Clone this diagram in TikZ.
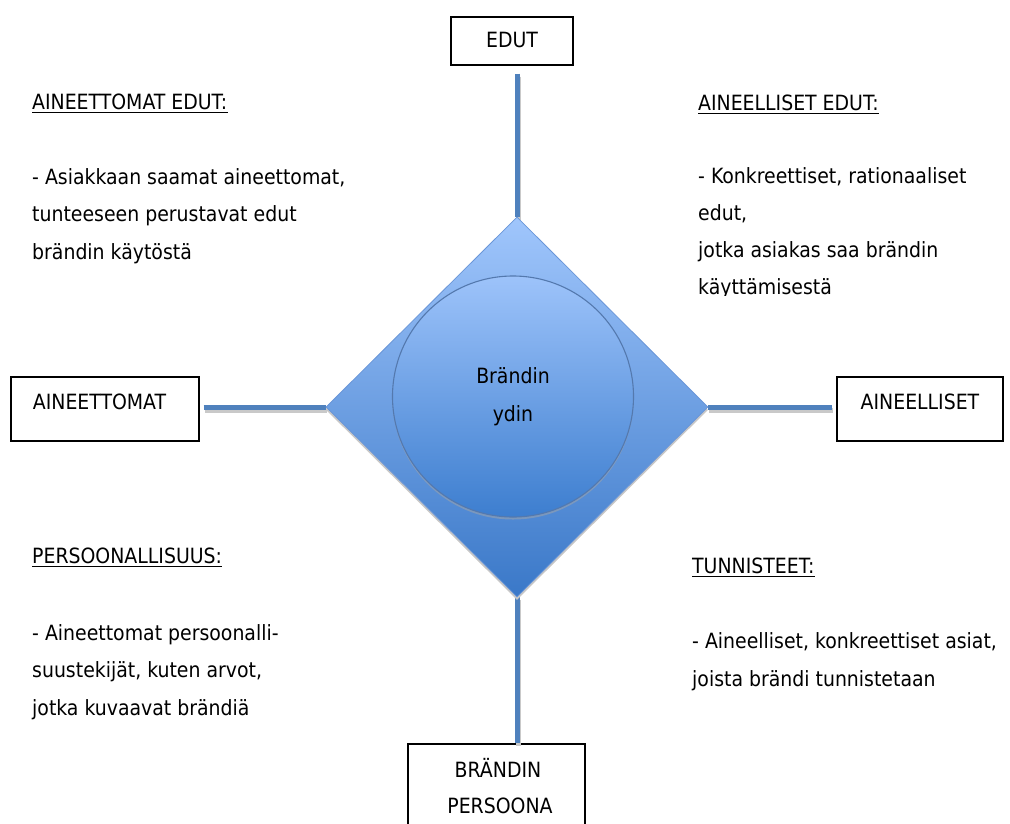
\documentclass[tikz,border=0pt]{standalone}
\usepackage{fontspec}
\setmainfont{DejaVu Sans Condensed}
\usetikzlibrary{shapes.geometric,shadows}

\definecolor{linkblue}{HTML}{4F81BD}
\definecolor{linkshade}{HTML}{C9C9C9}
\definecolor{diatop}{HTML}{A0C6FC}
\definecolor{diabot}{HTML}{3A78C8}
\definecolor{diaedge}{HTML}{6A96D8}
\definecolor{coretop}{HTML}{9DC3FA}
\definecolor{corebot}{HTML}{3D7ECF}
\definecolor{coreedge}{HTML}{5479AE}

\newcommand{\bodysize}{\fontsize{21}{25}\selectfont}

\tikzset{
  labelbox/.style={draw=black, line width=1.4pt, rectangle, inner sep=0pt},
  txt/.style={anchor=base west, inner sep=0pt, font=\bodysize},
  ctxt/.style={anchor=base, inner sep=0pt, font=\bodysize},
  link/.style={draw=linkblue, line width=5pt},
  linkshadow/.style={draw=linkshade, line width=5pt,
    transform canvas={xshift=1pt, yshift=-3pt}},
  rule/.style={line width=1.6pt}
}

\begin{document}
\begin{tikzpicture}[x=1pt, y=-1pt]
\clip (0,0) rectangle (1010,823);
\fill[white] (0,0) rectangle (1010,823);

% outer boxes
\node[labelbox, minimum width=122pt, minimum height=48pt] (edut) at (512,41) {};
\node[labelbox, minimum width=188pt, minimum height=64pt] (aineettomat) at (105,409) {};
\node[labelbox, minimum width=166pt, minimum height=64pt] (aineelliset) at (920,409) {};
\node[labelbox, minimum width=177pt, minimum height=100pt] (persoona) at (496.5,794) {};

% core shape outline, used as anchor for the connectors
\path (517,407) node[diamond, minimum width=382pt, minimum height=380pt, inner sep=0pt] (core) {};

% connectors with their soft shadows
\foreach \sty in {linkshadow, link} {
  \draw[\sty, shorten <=8pt] (core.north |- edut.south) -- (core.north);
  \draw[\sty, shorten <=4pt] (aineettomat.east |- core.west) -- (core.west);
  \draw[\sty, shorten >=4pt] (core.east) -- (aineelliset.west |- core.east);
  \draw[\sty] (core.south) -- (core.south |- persoona.north);
}

% diamond and inner circle
\node[diamond, minimum width=382pt, minimum height=380pt, inner sep=0pt,
      draw=diaedge, line width=0.8pt, top color=diatop, bottom color=diabot,
      drop shadow={opacity=1, fill=black!22, shadow xshift=0pt, shadow yshift=-3pt}]
      (diamondfill) at (core.center) {};
\node[circle, minimum size=241pt, inner sep=0pt, draw=coreedge, line width=1.1pt,
      top color=coretop, bottom color=corebot,
      drop shadow={opacity=0.5, fill=black!35, shadow xshift=0pt, shadow yshift=-2.5pt}]
      (nucleus) at (513,396.5) {};
\node[ctxt] (nuc1) at (513,383) {Brändin};
\node[ctxt] (nuc2) at (513,421) {ydin};

% box captions
\node[ctxt] (edut-t) at (512,47) {EDUT};
\node[ctxt] (aineettomat-t) at (99.5,409) {AINEETTOMAT};
\node[ctxt] (aineelliset-t) at (920,409) {AINEELLISET};
\node[ctxt] (persoona-t1) at (498,777) {BRÄNDIN};
\node[ctxt] (persoona-t2) at (500,813) {PERSOONA};

% upper left text
\node[txt] (h1) at (32,109) {AINEETTOMAT EDUT:};
\draw[rule] ([yshift=-3.5pt]h1.base west) -- ([yshift=-3.5pt]h1.base east);
\node[txt] (a1) at (32,184) {- Asiakkaan saamat aineettomat,};
\node[txt] (a2) at (32,221.5) {tunteeseen perustavat edut};
\node[txt] (a3) at (32,259) {brändin käytöstä};

% upper right text
\node[txt] (h2) at (698,110) {AINEELLISET EDUT:};
\draw[rule] ([yshift=-3.5pt]h2.base west) -- ([yshift=-3.5pt]h2.base east);
\node[txt] (b1) at (698,183) {- Konkreettiset, rationaaliset};
\node[txt] (b2) at (698,220) {edut,};
\node[txt] (b3) at (698,257) {jotka asiakas saa brändin};
\begin{scope}
  \clip (690,265) rectangle (1000,295);
  \node[txt] (b4) at (698,294) {käyttämisestä};
\end{scope}

% lower left text
\node[txt] (h3) at (32,563) {PERSOONALLISUUS:};
\draw[rule] ([yshift=-3.5pt]h3.base west) -- ([yshift=-3.5pt]h3.base east);
\node[txt] (c1) at (32,640) {- Aineettomat persoonalli-};
\node[txt] (c2) at (32,677.5) {suustekijät, kuten arvot,};
\node[txt] (c3) at (32,715) {jotka kuvaavat brändiä};

% lower right text
\node[txt] (h4) at (692,573) {TUNNISTEET:};
\draw[rule] ([yshift=-3.5pt]h4.base west) -- ([yshift=-3.5pt]h4.base east);
\node[txt] (d1) at (692,648) {- Aineelliset, konkreettiset asiat,};
\node[txt] (d2) at (692,686) {joista brändi tunnistetaan};
\end{tikzpicture}
\end{document}
